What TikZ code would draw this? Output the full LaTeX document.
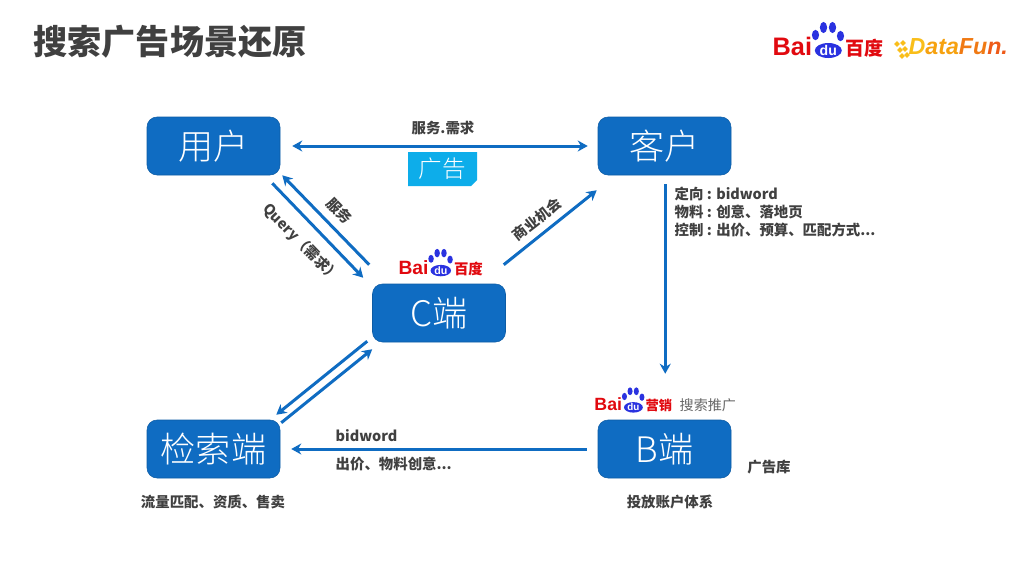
\documentclass[tikz,border=0pt]{standalone}
\usepackage{fontspec}
\usepackage{xcolor}
\usetikzlibrary{arrows.meta}
\setmainfont{Noto Sans CJK SC}
\newfontfamily\logolatin{Liberation Sans}
\newfontfamily\lightcjk{Noto Sans CJK SC Light}
\definecolor{boxblue}{HTML}{0F6CC2}
\definecolor{tagcyan}{HTML}{0DADEA}
\definecolor{titlegray}{HTML}{404040}
\definecolor{bdred}{HTML}{E1090F}
\definecolor{bdblue}{HTML}{2A32E0}
\definecolor{dfyellow}{HTML}{F9BE1A}
\definecolor{dfamber}{HTML}{F6A210}
\definecolor{dforange}{HTML}{F07A14}
\definecolor{dfred}{HTML}{EE5A18}
\newcommand{\fsz}[1]{\fontsize{#1}{#1}\selectfont}
\tikzset{
  termbox/.style={draw=boxblue!85!black,line width=0.15pt,fill=boxblue,rounded corners=0.1cm,
    minimum width=1.33cm,minimum height=0.58cm,inner sep=0pt,text=white,font=\lightcjk\fsz{10}},
  smalltext/.style={inner sep=0pt,text=titlegray,font=\fsz{4.1}\bfseries,align=left},
  flow/.style={boxblue,line width=0.85pt,-{Stealth[length=0.1cm,width=0.11cm]}},
  twoway/.style={boxblue,line width=0.85pt,{Stealth[length=0.1cm,width=0.11cm]}-{Stealth[length=0.1cm,width=0.11cm]}},
  pics/baidulogo/.style={code={
    \node[anchor=base west,inner sep=0pt,text=bdred,font=\logolatin\fsz{7.2}\bfseries] (-bai) at (0,0) {Bai};
    \fill[bdblue] (0.563,0.045) ellipse[x radius=0.135,y radius=0.075];
    \fill[bdblue] (0.435,0.2) ellipse[x radius=0.036,y radius=0.052];
    \fill[bdblue] (0.515,0.275) ellipse[x radius=0.036,y radius=0.056];
    \fill[bdblue] (0.605,0.275) ellipse[x radius=0.036,y radius=0.056];
    \fill[bdblue] (0.685,0.19) ellipse[x radius=0.036,y radius=0.052];
    \node[inner sep=0pt,text=white,font=\logolatin\fsz{4}\bfseries] (-du) at (0.563,0.045) {du};
    \node[anchor=base west,inner sep=0pt,text=bdred,font=\fsz{5.4}\bfseries] (-name) at (0.73,0) {#1};
  }}
}
\begin{document}
\begin{tikzpicture}[x=1cm,y=1cm]
  \useasboundingbox (0,0) rectangle (10.24,5.76);
  \fill[white] (0,0) rectangle (10.24,5.76);
  \node[anchor=west,inner sep=0pt,text=titlegray,font=\fsz{9.7}\bfseries] (title) at (0.33,5.34) {搜索广告场景还原};
  % logos
  \pic (toplogo) at (7.72,5.21) {baidulogo={百度}};
  \pic[scale=0.76,transform shape] (clogo) at (3.98,3.02) {baidulogo={百度}};
  \pic[scale=0.7,transform shape] (blogo) at (5.94,1.655) {baidulogo={营销}};
  \node[anchor=west,inner sep=0pt,text=titlegray!80,font=\fsz{4}] (adsearch) at (6.79,1.71) {搜索推广};
  \node[anchor=base west,inner sep=0pt,text=dforange,font=\logolatin\fsz{6.6}\bfseries\itshape] (datafun) at (9.08,5.22)
    {{\color{dfyellow}D}{\color{dfamber}ata}Fu{\color{dfred}n.}};
  \foreach \px/\py in {8.97/5.32,9.03/5.33,9.05/5.27,9.0/5.26,9.07/5.21,9.02/5.2}
    \fill[dfyellow,rotate around={45:(\px,\py)}] (\px-0.02,\py-0.02) rectangle (\px+0.02,\py+0.02);
  % terminals
  \node[termbox] (user) at (2.135,4.3) {用户};
  \node[termbox] (client) at (6.645,4.3) {客户};
  \node[termbox] (cside) at (4.39,2.63) {C端};
  \node[termbox] (search) at (2.135,1.27) {检索端};
  \node[termbox] (bside) at (6.645,1.27) {B端};
  % ad tag
  \fill[tagcyan] (4.08,4.24) -- (4.77,4.24) -- (4.77,3.96) -- (4.71,3.9) -- (4.08,3.9) -- cycle;
  \node[inner sep=0pt,text=white,font=\lightcjk\fsz{6.7}] (adtag) at (4.42,4.07) {广告};
  % connectors
  \draw[twoway,shorten <=0.12cm,shorten >=0.1cm] (user.east) -- (client.west);
  \draw[flow] ([shift={(-0.08,-0.08)}]user.south east) -- ([shift={(-0.09,0.06)}]cside.north west);
  \draw[flow] ([shift={(-0.03,0.19)}]cside.north west) -- ([shift={(0.02,0)}]user.south east);
  \draw[flow] ([shift={(-0.02,0.19)}]cside.north east) -- ([shift={(-0.01,-0.15)}]client.south west);
  \draw[flow] ([shift={(0.675,-0.09)}]client.south west) -- ([shift={(0.675,0.46)}]bside.north west);
  \draw[flow] ([shift={(-0.05,0.01)}]cside.south west) -- ([shift={(-0.04,0.05)}]search.north east);
  \draw[flow] ([shift={(0.01,-0.03)}]search.north east) -- ([shift={(0,-0.07)}]cside.south west);
  \draw[flow,shorten <=0.11cm,shorten >=0.11cm] (bside.west) -- (search.east);
  % labels
  \node[smalltext] (needlabel) at (4.43,4.48) {服务.需求};
  \node[smalltext,rotate=-46] (querylabel) at (3.01,3.33) {Query（需求）};
  \node[smalltext,rotate=-46] (servelabel) at (3.39,3.65) {服务};
  \node[smalltext,rotate=38] (bizlabel) at (5.37,3.57) {商业机会};
  \node[smalltext,anchor=north west] (settings) at (6.74,3.9) {定向 : bidword\\[1pt]物料 : 创意、落地页\\[1pt]控制 : 出价、预算、匹配方式...};
  \node[smalltext,anchor=west] (bidlabel) at (3.35,1.4) {bidword};
  \node[smalltext,anchor=west] (pricelabel) at (3.35,1.12) {出价、物料创意...};
  \node[smalltext] (matchlabel) at (2.13,0.74) {流量匹配、资质、售卖};
  \node[smalltext] (accountlabel) at (6.7,0.74) {投放账户体系};
  \node[smalltext] (adlib) at (7.69,1.09) {广告库};
\end{tikzpicture}
\end{document}
